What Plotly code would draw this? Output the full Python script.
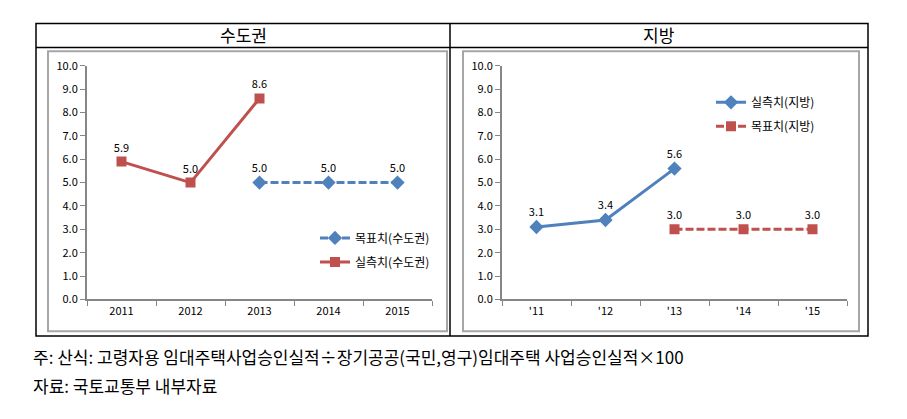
import plotly.graph_objects as go

# ---- data ----
years_left = ["2011", "2012", "2013", "2014", "2015"]
years_right = ["'11", "'12", "'13", "'14", "'15"]

actual_metro_x = ["2011", "2012", "2013"]
actual_metro = [5.9, 5.0, 8.6]
target_metro_x = ["2013", "2014", "2015"]
target_metro = [5.0, 5.0, 5.0]

actual_local_x = ["'11", "'12", "'13"]
actual_local = [3.1, 3.4, 5.6]
target_local_x = ["'13", "'14", "'15"]
target_local = [3.0, 3.0, 3.0]

panel_titles = ["수도권", "지방"]
footnotes = ["주: 산식: 고령자용 임대주택사업승인실적÷장기공공(국민,영구)임대주택 사업승인실적×100",
             "자료: 국토교통부 내부자료"]

BLUE = "#4F81BD"
RED = "#C0504D"
W, H = 907, 419
FONT = "Noto Sans CJK KR"
DASH = "8px,3px"

def px(x):
    return x / W

def py(y):
    return 1 - y / H

fig = go.Figure()

def lab(vals):
    return [f"{v:.1f}" for v in vals]

tf = dict(size=11, color="black", family=FONT)

# left panel
fig.add_trace(go.Scatter(x=target_metro_x, y=target_metro, name="목표치(수도권)",
                         mode="lines+markers+text", text=lab(target_metro), textposition="top center",
                         line=dict(color=BLUE, width=3, dash=DASH),
                         marker=dict(symbol="diamond", size=11, color=BLUE),
                         textfont=tf, xaxis="x", yaxis="y", legend="legend"))
fig.add_trace(go.Scatter(x=actual_metro_x, y=actual_metro, name="실측치(수도권)",
                         mode="lines+markers+text", text=lab(actual_metro), textposition="top center",
                         line=dict(color=RED, width=3),
                         marker=dict(symbol="square", size=10, color=RED),
                         textfont=tf, xaxis="x", yaxis="y", legend="legend2"))
# right panel
fig.add_trace(go.Scatter(x=actual_local_x, y=actual_local, name="실측치(지방)",
                         mode="lines+markers+text", text=lab(actual_local), textposition="top center",
                         line=dict(color=BLUE, width=3),
                         marker=dict(symbol="diamond", size=11, color=BLUE),
                         textfont=tf, xaxis="x2", yaxis="y2", legend="legend3"))
fig.add_trace(go.Scatter(x=target_local_x, y=target_local, name="목표치(지방)",
                         mode="lines+markers+text", text=lab(target_local), textposition="top center",
                         line=dict(color=RED, width=3, dash=DASH),
                         marker=dict(symbol="square", size=10, color=RED),
                         textfont=tf, xaxis="x2", yaxis="y2", legend="legend4"))

ydom = [py(302), py(59)]
xcommon = dict(type="category", range=[-0.5, 4.5], showgrid=False, showline=True,
               linecolor="#868686", linewidth=2, ticks="outside", tickson="boundaries",
               ticklen=5, tickcolor="#868686", tickfont=dict(size=11, family=FONT, color="black"),
               fixedrange=True, zeroline=False)
ycommon = dict(range=[0, 10], dtick=1, tickformat=".1f", showgrid=False, showline=True,
               linecolor="#868686", linewidth=2, ticks="outside", ticklen=5, tickcolor="#868686",
               tickfont=dict(size=11, family=FONT, color="black"), zeroline=False, fixedrange=True)

def leg(x, y):
    return dict(x=px(x), y=py(y), xanchor="left", yanchor="middle", bgcolor="rgba(0,0,0,0)",
                font=dict(size=12, family=FONT), itemwidth=30, borderwidth=0)

fig.update_layout(
    width=W, height=H, margin=dict(l=0, r=0, t=0, b=0),
    paper_bgcolor="white", plot_bgcolor="white",
    font=dict(family=FONT, color="black"),
    xaxis=dict(domain=[px(87), px(432)], categoryorder="array", categoryarray=years_left,
               anchor="y", **xcommon),
    yaxis=dict(domain=ydom, anchor="x", **ycommon),
    xaxis2=dict(domain=[px(502), px(847)], categoryorder="array", categoryarray=years_right,
                anchor="y2", **xcommon),
    yaxis2=dict(domain=ydom, anchor="x2", **ycommon),
    legend=leg(315, 238),
    legend2=leg(315, 263),
    legend3=leg(711, 97),
    legend4=leg(711, 122),
    showlegend=True,
)

shapes = [
    dict(type="rect", xref="paper", yref="paper", x0=px(36), x1=px(868), y0=py(340), y1=py(15),
         line=dict(color="black", width=1.5)),
    dict(type="line", xref="paper", yref="paper", x0=px(36), x1=px(868), y0=py(40), y1=py(40),
         line=dict(color="black", width=1.5)),
    dict(type="line", xref="paper", yref="paper", x0=px(450), x1=px(450), y0=py(340), y1=py(15),
         line=dict(color="black", width=1.5)),
    dict(type="rect", xref="paper", yref="paper", x0=px(48), x1=px(447), y0=py(335), y1=py(44),
         line=dict(color="#A6A6A6", width=2)),
    dict(type="rect", xref="paper", yref="paper", x0=px(463), x1=px(859), y0=py(335), y1=py(44),
         line=dict(color="#A6A6A6", width=2)),
]
fig.update_layout(shapes=shapes)

annotations = [
    dict(text=panel_titles[0], x=px(243), y=py(27), xref="paper", yref="paper", showarrow=False,
         font=dict(size=17, family=FONT), xanchor="center", yanchor="middle"),
    dict(text=panel_titles[1], x=px(659), y=py(27), xref="paper", yref="paper", showarrow=False,
         font=dict(size=17, family=FONT), xanchor="center", yanchor="middle"),
    dict(text=footnotes[0], x=px(31), y=py(361), xref="paper", yref="paper", showarrow=False,
         font=dict(size=17, family=FONT), xanchor="left", yanchor="middle"),
    dict(text=footnotes[1], x=px(31), y=py(391), xref="paper", yref="paper", showarrow=False,
         font=dict(size=17, family=FONT), xanchor="left", yanchor="middle"),
]
fig.update_layout(annotations=annotations)

fig.write_html("out.html", config={"displayModeBar": False},
               post_script="document.body.style.margin='0';document.body.style.overflow='hidden';")
